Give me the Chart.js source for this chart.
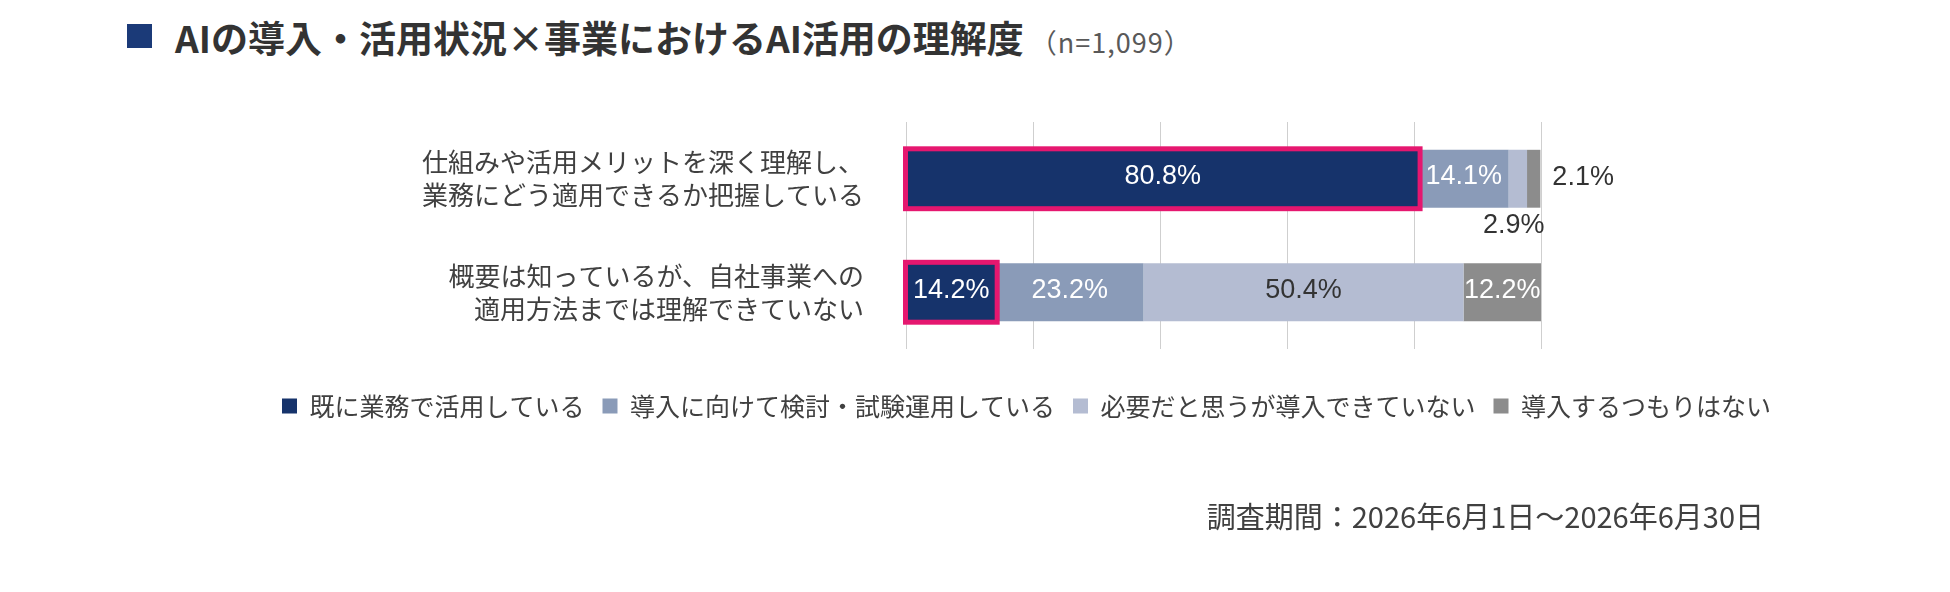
<!DOCTYPE html>
<html lang="ja">
<head>
<meta charset="utf-8">
<script src="https://cdn.jsdelivr.net/npm/chart.js@4.4.1/dist/chart.umd.min.js"></script>
<style>
  html, body { margin: 0; padding: 0; background: #fff; }
  body { width: 1950px; height: 592px; position: relative; overflow: hidden;
         font-family: "Noto Sans CJK JP", "Noto Sans", sans-serif; }
  #chart { position: absolute; left: 0; top: 0; }
  .mark { position: absolute; left: 127px; top: 24px; width: 25px; height: 24px; background: #1b3a78; }
  .title { position: absolute; left: 175px; top: 15px; height: 44px; line-height: 44px;
           font-size: 37px; font-weight: 700; color: #333; white-space: nowrap; }
  .title .n { font-size: 27px; font-weight: 400; color: #595959; letter-spacing: 1px; margin-left: 6px; }
  .period { position: absolute; right: 186px; top: 496px; line-height: 38px;
            font-size: 29px; color: #404040; white-space: nowrap; }
</style>
</head>
<body>
<div class="mark"></div>
<div class="title">AIの導入・活用状況×事業におけるAI活用の理解度<span class="n">（n=1,099）</span></div>
<canvas id="chart" width="1950" height="592"></canvas>
<div class="period">調査期間：2026年6月1日～2026年6月30日</div>
<script>
// categories (y axis), two lines each
const categories = [
    ['仕組みや活用メリットを深く理解し、', '業務にどう適用できるか把握している'],
    ['概要は知っているが、自社事業への', '適用方法までは理解できていない']
];
const seriesNames = ['既に業務で活用している', '導入に向けて検討・試験運用している', '必要だと思うが導入できていない', '導入するつもりはない'];
const usingNow = [80.8, 14.2];
const piloting = [14.1, 23.2];
const neededNotYet = [2.9, 50.4];
const noPlan = [2.1, 12.2];
const xTicks = [0, 20, 40, 60, 80, 100];

const colors = ['#16336b', '#8a9bb8', '#b4bcd2', '#8c8c8c'];
const labelColors = ['#ffffff', '#ffffff', '#333333', '#ffffff'];
const seriesValues = [usingNow, piloting, neededNotYet, noPlan];

// pink frame around the first series
const outlinePlugin = {
    id: 'outline',
    afterDatasetsDraw(chart) {
        const ctx = chart.ctx;
        ctx.save();
        ctx.strokeStyle = '#e5176f';
        ctx.lineWidth = 5;
        chart.getDatasetMeta(0).data.forEach(bar => {
            const p = bar.getProps(['x', 'y', 'base', 'height'], true);
            ctx.strokeRect(p.base - 1, p.y - p.height / 2 - 1, p.x - p.base + 2, p.height + 2);
        });
        ctx.restore();
    }
};

// percentage labels
const labelPlugin = {
    id: 'valueLabels',
    afterDatasetsDraw(chart) {
        const ctx = chart.ctx;
        const last = chart.data.datasets.length - 1;
        ctx.save();
        ctx.font = '27px "Liberation Sans", Arial, sans-serif';
        ctx.textBaseline = 'middle';
        chart.data.datasets.forEach((ds, di) => {
            chart.getDatasetMeta(di).data.forEach((bar, i) => {
                const v = ds.data[i];
                const text = v.toFixed(1) + '%';
                const p = bar.getProps(['x', 'y', 'base', 'height'], true);
                if (v < 5) {
                    ctx.fillStyle = '#333333';
                    if (di === last) {
                        ctx.textAlign = 'left';
                        ctx.fillText(text, p.x + 12, p.y - 1);
                    } else {
                        ctx.textAlign = 'center';
                        ctx.fillText(text, (p.x + p.base) / 2 - 4, p.y + p.height / 2 + 18);
                    }
                } else {
                    ctx.fillStyle = labelColors[di];
                    ctx.textAlign = 'center';
                    ctx.fillText(text, (p.x + p.base) / 2, p.y - 2);
                }
            });
        });
        ctx.restore();
    }
};

new Chart(document.getElementById('chart'), {
    type: 'bar',
    data: {
        labels: categories,
        datasets: seriesNames.map((name, i) => ({
            label: name,
            data: seriesValues[i],
            backgroundColor: colors[i],
            borderWidth: 0,
            barPercentage: 0.51,
            categoryPercentage: 1
        }))
    },
    options: {
        indexAxis: 'y',
        responsive: false,
        animation: false,
        devicePixelRatio: 1,
        layout: {
            padding: { top: 122, left: 103, right: 0, bottom: 163.5 }
        },
        scales: {
            x: {
                stacked: true,
                min: 0,
                max: 100,
                afterBuildTicks: scale => { scale.ticks = xTicks.map(v => ({ value: v })); },
                ticks: { display: false },
                grid: { color: '#cfcfcf', lineWidth: 1, drawTicks: false },
                border: { display: false },
                afterFit: scale => { scale.height = 26.5; }
            },
            y: {
                stacked: true,
                grid: { display: false },
                border: { display: false },
                ticks: {
                    padding: 34,
                    color: '#404040',
                    font: { family: '"Noto Sans CJK JP", sans-serif', size: 26, lineHeight: 1.27 }
                },
                afterFit: scale => { scale.width = 803; }
            },
            // empty right-hand axis that reserves the space right of the bars
            yRight: {
                type: 'category',
                position: 'right',
                grid: { display: false },
                border: { display: false },
                ticks: { display: false },
                afterFit: scale => { scale.width = 409; }
            }
        },
        plugins: {
            legend: {
                position: 'bottom',
                labels: {
                    boxWidth: 15,
                    boxHeight: 15,
                    padding: 18,
                    color: '#404040',
                    font: { family: '"Noto Sans CJK JP", sans-serif', size: 25 }
                }
            },
            tooltip: { enabled: false }
        }
    },
    plugins: [outlinePlugin, labelPlugin]
});
</script>
</body>
</html>
